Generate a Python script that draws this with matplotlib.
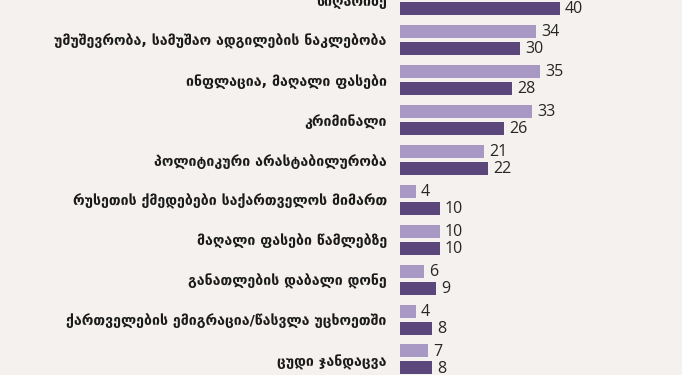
import matplotlib
matplotlib.use("Agg")
import matplotlib.pyplot as plt
import numpy as np

categories = [
    "სიღარიბე",
    "უმუშევრობა, სამუშაო ადგილების ნაკლებობა",
    "ინფლაცია, მაღალი ფასები",
    "კრიმინალი",
    "პოლიტიკური არასტაბილურობა",
    "რუსეთის ქმედებები საქართველოს მიმართ",
    "მაღალი ფასები წამლებზე",
    "განათლების დაბალი დონე",
    "ქართველების ემიგრაცია/წასვლა უცხოეთში",
    "ცუდი ჯანდაცვა",
]
# first light value lies outside the visible crop of the reference
series_light = [np.nan, 34, 35, 33, 21, 4, 10, 6, 4, 7]
series_dark = [40, 30, 28, 26, 22, 10, 10, 9, 8, 8]

light_color = "#A898C4"
dark_color = "#5B477B"
bg = "#F4F1EE"

W, H = 682, 375
fig = plt.figure(figsize=(W / 100, H / 100), dpi=100, facecolor=bg)
left_px = 400
ax = fig.add_axes([left_px / W, 0, 1 - left_px / W, 1])
ax.set_facecolor(bg)

px_per_unit = 4.0
spacing_px = 39.94
y = np.arange(len(categories))
bar_h = 13 / spacing_px
off = 8.5 / spacing_px
txt_shift = 0.8 / spacing_px

ax.barh(y - off, series_light, height=bar_h, color=light_color)
ax.barh(y + off, series_dark, height=bar_h, color=dark_color)

for yi, v in zip(y, series_light):
    if np.isnan(v):
        continue
    ax.text(v + 5 / px_per_unit, yi - off + txt_shift, str(int(v)), ha="left", va="center",
            fontsize=11.5, color="#262626", family="Open Sans")
for yi, v in zip(y, series_dark):
    ax.text(v + 5 / px_per_unit, yi + off + txt_shift, str(int(v)), ha="left", va="center",
            fontsize=11.5, color="#262626", family="Open Sans")

ax.set_xlim(0, (W - left_px) / px_per_unit)
ax.set_ylim(H / spacing_px, 0)
ax.set_yticks(y)
ax.set_yticklabels(categories, fontsize=10.2, color="#1a1a1a", family="DejaVu Sans",
                   fontweight="bold")
ax.tick_params(axis="y", length=0, pad=9.5)
ax.set_xticks([])
for s in ax.spines.values():
    s.set_visible(False)

fig.savefig("out.png", dpi=100, facecolor=bg)
